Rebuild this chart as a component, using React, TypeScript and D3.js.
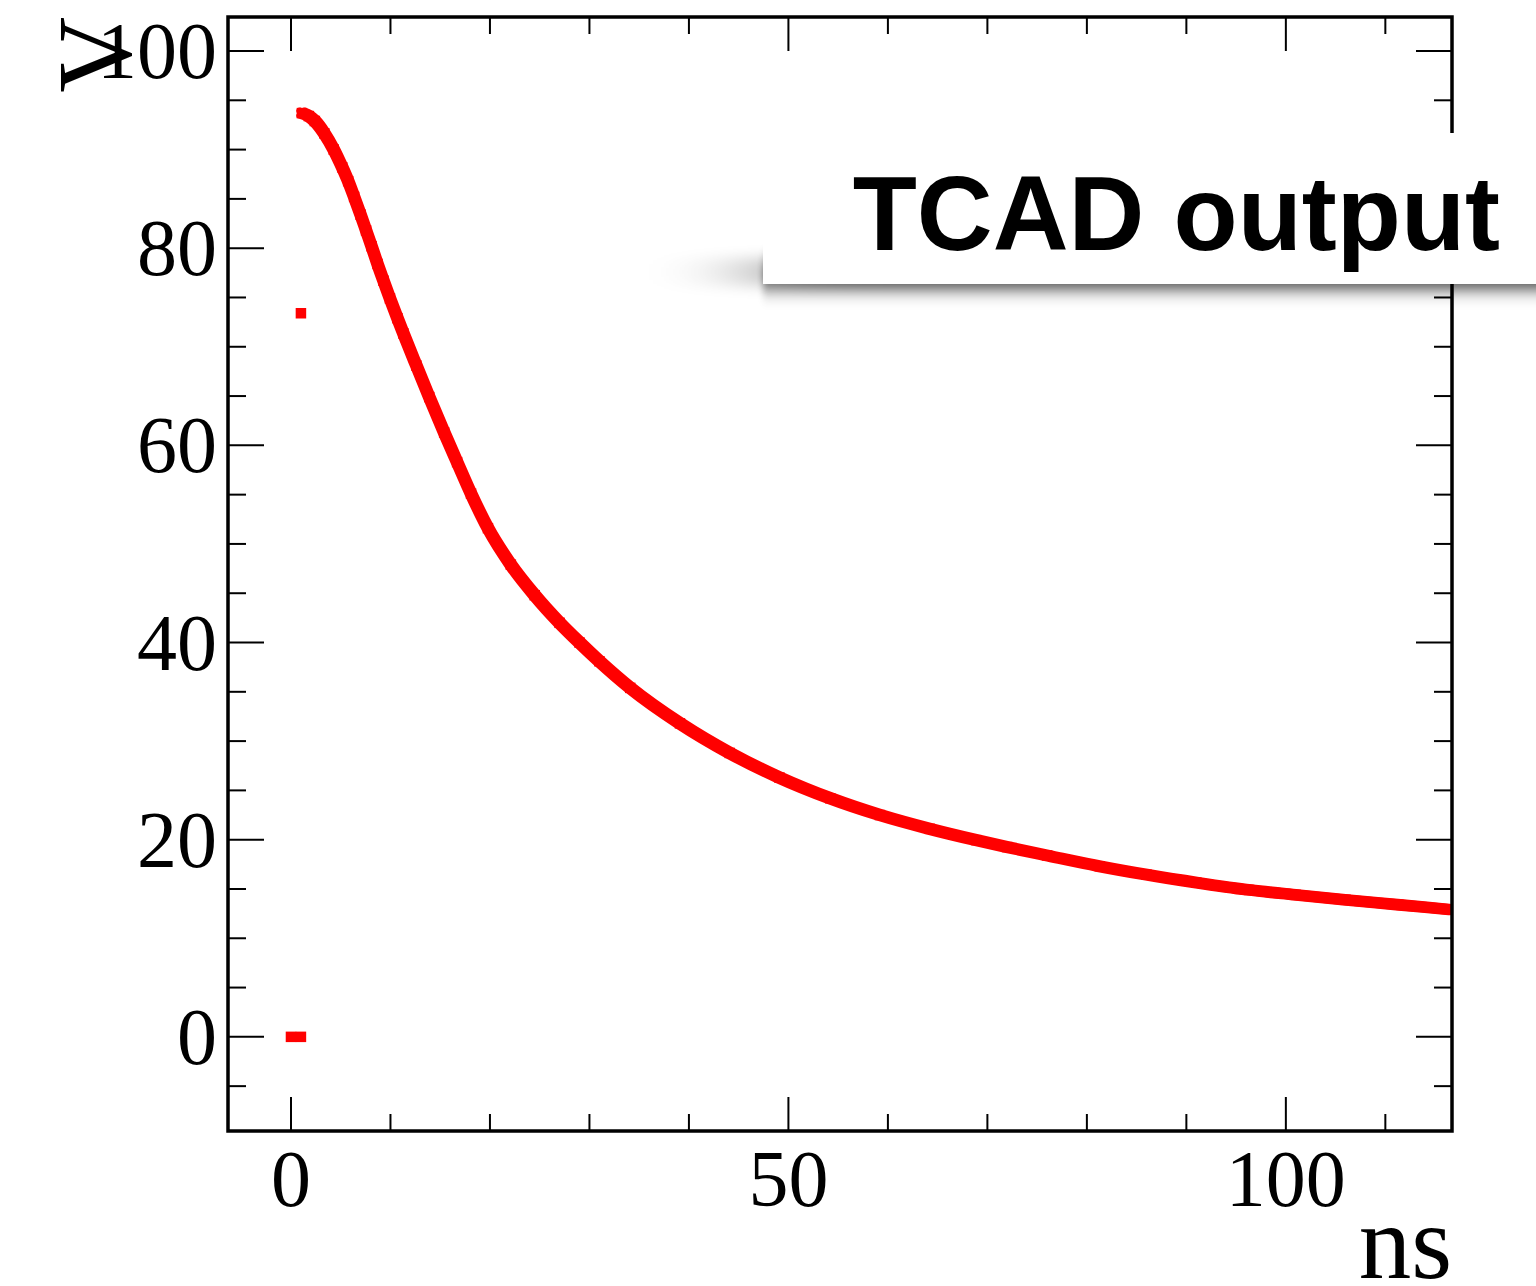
import React from "react";
import * as d3 from "d3";

// ---- data ----
const isolatedTimes = [0, 1, 1];
const isolatedVolts = [0, 0, 73.4];

const curveTimes = [
  1.1, 1.8, 2.4, 3.35, 4.3, 5.15, 5.75, 6.35, 7.0, 7.55, 8.1, 8.7, 9.3, 9.95,
  10.7, 11.3, 12.6, 13.9, 15.4, 16.7, 18.1, 19.8, 22.1, 24.5, 27.0, 29.0, 31.0,
  34.1, 39.1, 44.1, 49.1, 54.2, 59.2, 64.2, 68.9, 72, 76, 81.3, 86, 91, 96.3,
  101, 106, 111.3, 116.6,
];
const curveVolts = [
  93.7, 93.4, 92.9, 91.65, 90.0, 88.2, 86.8, 85.2, 83.4, 81.8, 80.2, 78.4, 76.7,
  74.9, 72.9, 71.35, 68.1, 64.9, 61.3, 58.3, 55.1, 51.6, 47.9, 44.8, 42.0, 40.0,
  38.1, 35.4, 31.8, 28.8, 26.3, 24.2, 22.5, 21.1, 19.95, 19.25, 18.4, 17.3,
  16.45, 15.65, 14.9, 14.4, 13.9, 13.4, 12.9,
];

const xTickValues = d3.range(0, 117, 10);
const xMajorLabels = ["0", "50", "100"];
const yTickValues = d3.range(-5, 104, 5);
const yMajorLabels = ["0", "20", "40", "60", "80", "100"];

const xTitle = "ns";
const yTitle = "V";
const legendText = "TCAD output";

// ---- layout ----
const W = 1536;
const H = 1286;
const L = 228;
const R = 1452;
const T = 17;
const B = 1131;

const SERIF = "'Liberation Serif', 'Times New Roman', 'DejaVu Serif', serif";
const SANS = "'Liberation Sans', Arial, Helvetica, sans-serif";
const RED = "#ff0000";

export default function App() {
  const x = d3.scaleLinear().domain([-6.33, 116.7]).range([L, R]);
  const y = d3.scaleLinear().domain([-9.55, 103.45]).range([B, T]);

  const curvePts = curveTimes.map((t, i) => [t, curveVolts[i]] as [number, number]);
  const isoPts = isolatedTimes.map((t, i) => [t, isolatedVolts[i]] as [number, number]);

  const line = d3
    .line<[number, number]>()
    .x((d) => x(d[0]))
    .y((d) => y(d[1]))
    .curve(d3.curveMonotoneX);
  const pathD = line(curvePts) || "";

  const ms = 10.5; // marker size
  const o = 2.4;
  const offs = [
    [-o, -o],
    [o, -o],
    [-o, o],
    [o, o],
  ];

  const xMajorSet = new Set(xMajorLabels.map(Number));
  const yMajorSet = new Set(yMajorLabels.map(Number));

  return (
    <svg
      width={W}
      height={H}
      viewBox={`0 0 ${W} ${H}`}
      style={{ position: "absolute", left: 0, top: 0, background: "#fff" }}
    >
      <defs>
        <clipPath id="frameClip">
          <rect x={L} y={T} width={R - L} height={B - T} />
        </clipPath>
        <filter id="shWide" x="-60%" y="-400%" width="220%" height="900%">
          <feGaussianBlur stdDeviation="55 7" />
        </filter>
        <filter id="shNear" x="-10%" y="-300%" width="120%" height="700%">
          <feGaussianBlur stdDeviation="3 10" />
        </filter>
      </defs>
      <rect x={0} y={0} width={W} height={H} fill="#fff" />

      {/* data */}
      <g clipPath="url(#frameClip)">
        {offs.map(([dx, dy], i) => (
          <path
            key={i}
            d={pathD}
            transform={`translate(${dx},${dy})`}
            fill="none"
            stroke={RED}
            strokeWidth={6.5}
            strokeLinejoin="round"
            strokeLinecap="round"
          />
        ))}
        {curvePts.map((d, i) => (
          <rect
            key={"c" + i}
            x={x(d[0]) - ms / 2}
            y={y(d[1]) - ms / 2}
            width={ms}
            height={ms}
            fill={RED}
          />
        ))}
        {isoPts.map((d, i) => (
          <rect
            key={"p" + i}
            x={x(d[0]) - ms / 2}
            y={y(d[1]) - ms / 2}
            width={ms}
            height={ms}
            fill={RED}
          />
        ))}
      </g>

      {/* frame */}
      <rect x={L} y={T} width={R - L} height={B - T} fill="none" stroke="#000" strokeWidth={3.5} />

      {/* x ticks */}
      {xTickValues.map((v) => {
        const len = xMajorSet.has(v) ? 34 : 17;
        const px = x(v);
        return (
          <g key={"xt" + v}>
            <line x1={px} x2={px} y1={B} y2={B - len} stroke="#000" strokeWidth={2} />
            <line x1={px} x2={px} y1={T} y2={T + len} stroke="#000" strokeWidth={2} />
          </g>
        );
      })}
      {/* y ticks */}
      {yTickValues.map((v) => {
        const len = yMajorSet.has(v) ? 36 : 18;
        const py = y(v);
        return (
          <g key={"yt" + v}>
            <line x1={L} x2={L + len} y1={py} y2={py} stroke="#000" strokeWidth={2} />
            <line x1={R} x2={R - len} y1={py} y2={py} stroke="#000" strokeWidth={2} />
          </g>
        );
      })}

      {/* tick labels */}
      {xMajorLabels.map((lab) => (
        <text
          key={"xl" + lab}
          x={x(Number(lab))}
          y={1206}
          textAnchor="middle"
          fontFamily={SERIF}
          fontSize={80}
          fill="#000"
        >
          {lab}
        </text>
      ))}
      {yMajorLabels.map((lab) => (
        <text
          key={"yl" + lab}
          x={217}
          y={y(Number(lab)) + 27}
          textAnchor="end"
          fontFamily={SERIF}
          fontSize={80}
          fill="#000"
        >
          {lab}
        </text>
      ))}

      {/* axis titles */}
      <text x={R} y={1278} textAnchor="end" fontFamily={SERIF} fontSize={105} fill="#000">
        {xTitle}
      </text>
      <text
        transform={`translate(130,17) rotate(-90)`}
        textAnchor="end"
        fontFamily={SERIF}
        fontSize={105}
        fill="#000"
      >
        {yTitle}
      </text>

      {/* legend with shadow */}
      <rect x={763} y={258} width={900} height={28} fill="#000" opacity={0.38} filter="url(#shWide)" />
      <rect x={763} y={264} width={900} height={24} fill="#000" opacity={0.6} filter="url(#shNear)" />
      <rect x={763} y={133} width={900} height={151} fill="#fff" />
      <text
        x={1500}
        y={250}
        textAnchor="end"
        fontFamily={SANS}
        fontWeight="bold"
        fontSize={105}
        fill="#000"
      >
        {legendText}
      </text>
    </svg>
  );
}
